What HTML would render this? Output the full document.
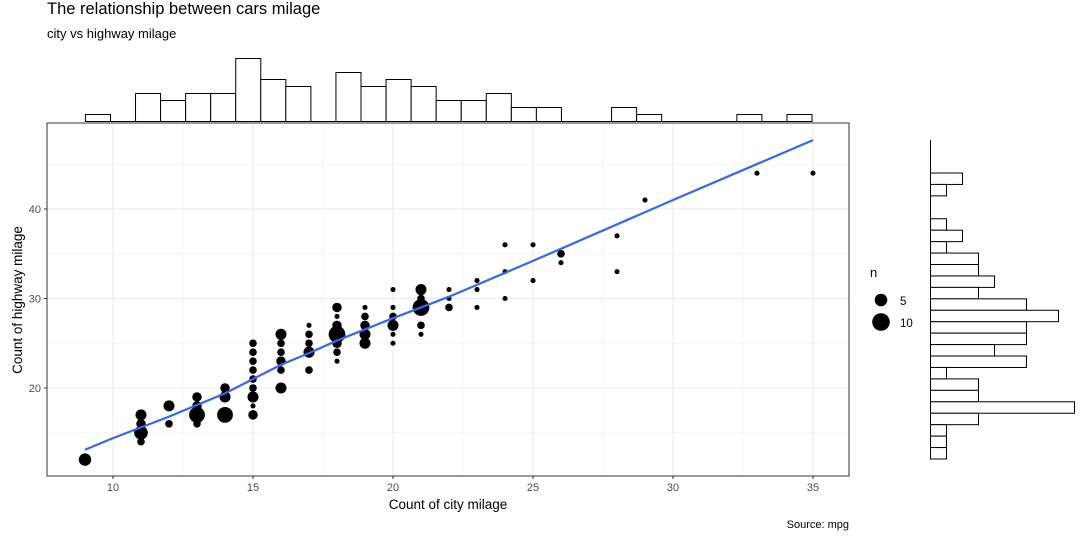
<!DOCTYPE html>
<html><head><meta charset="utf-8"><style>
body{margin:0;background:#fff;font-family:"Liberation Sans",Arial,sans-serif}
svg text{font-family:"Liberation Sans",Arial,sans-serif}
</style></head><body>
<svg id="c" width="1083" height="540" xmlns="http://www.w3.org/2000/svg">
<text x="47" y="14" font-size="16.5" fill="#000">The relationship between cars milage</text>
<text x="47" y="38" font-size="13" fill="#000">city vs highway milage</text>
<text x="849" y="528" font-size="11" text-anchor="end" fill="#000">Source: mpg</text>
<text x="448" y="509" font-size="13.5" text-anchor="middle">Count of city milage</text>
<text transform="translate(22,300) rotate(-90)" font-size="13.5" text-anchor="middle">Count of highway milage</text>
<g id="grid"></g><g id="pts"></g><g id="ax"></g><g id="th"></g><g id="rh"></g>
<g>
<text x="870" y="277" font-size="13">n</text>
<circle cx="881" cy="300" r="6.3" fill="#000"/>
<text x="900" y="305" font-size="11.5">5</text>
<circle cx="881" cy="322" r="8.8" fill="#000"/>
<text x="900" y="327" font-size="11.5">10</text>
</g>
</svg>
<script>
const ptCty=[9,11,11,11,11,12,12,13,13,13,13,14,14,14,15,15,15,15,15,15,15,15,15,16,16,16,16,16,16,17,17,17,17,17,18,18,18,18,18,18,18,19,19,19,19,19,20,20,20,20,20,20,21,21,21,21,21,22,22,22,23,23,23,24,24,24,25,25,26,26,28,28,29,33,35];
const ptHwy=[12,14,15,16,17,16,18,16,17,18,19,17,19,20,17,18,19,20,21,22,23,24,25,20,22,23,24,25,26,22,24,25,26,27,23,24,25,26,27,28,29,25,26,27,28,29,25,26,27,28,29,31,26,27,29,30,31,29,30,31,29,31,32,30,33,36,32,36,34,35,33,37,41,44,44];
const ptN=[5,2,6,3,4,2,4,2,8,3,3,8,4,3,3,1,4,2,2,2,2,2,2,4,2,3,2,2,4,2,4,2,2,1,1,2,3,9,3,1,3,4,4,3,2,1,1,1,4,2,1,1,1,2,9,2,4,2,1,1,1,1,1,1,1,1,1,1,1,2,1,1,1,1,1];
const fitX=[9,10,12,14,15,16,17,18,20,22,25,30,35];
const fitY=[13.1,14.4,16.8,19.4,21.0,22.6,23.9,25.3,27.8,30.2,34.2,41.0,47.7];
const xTicks=[10,15,20,25,30,35];
const yTicks=[20,30,40];
const topCounts=[1,0,4,3,4,4,9,6,5,0,7,5,6,5,3,3,4,2,2,0,0,2,1,0,0,0,1,0,1];
const rightCounts=[2,1,0,0,1,2,1,3,3,4,3,6,8,6,6,4,6,1,3,3,9,3,1,1,1];
const NS="http://www.w3.org/2000/svg";
const X=v=>113+(v-10)*28, Y=v=>388-(v-20)*8.95;
const R=n=>Math.sqrt(6.5+8*(n-1));
function mk(p,t,a){const e=document.createElementNS(NS,t);for(const k in a)e.setAttribute(k,a[k]);p.appendChild(e);return e;}
const g=document.getElementById('grid');
mk(g,'rect',{x:47,y:123,width:802,height:353,fill:'#fff'});
[7.5,12.5,17.5,22.5,27.5,32.5].forEach(v=>{const l=mk(g,'line',{x1:X(v),x2:X(v),y1:123,y2:476,stroke:'#f2f2f2','stroke-width':0.6});});
[15,25,35,45].forEach(v=>{const l=mk(g,'line',{x1:47,x2:849,y1:Y(v),y2:Y(v),stroke:'#f2f2f2','stroke-width':0.6});});
xTicks.forEach(v=>{const l=mk(g,'line',{x1:X(v),x2:X(v),y1:123,y2:476,stroke:'#ebebeb','stroke-width':1.1});});
yTicks.forEach(v=>{const l=mk(g,'line',{x1:47,x2:849,y1:Y(v),y2:Y(v),stroke:'#ebebeb','stroke-width':1.1});});
const p=document.getElementById('pts');
ptCty.forEach((c,i)=>{const e=mk(p,'circle',{cx:X(c),cy:Y(ptHwy[i]),r:R(ptN[i]),fill:'#000'});

});
const fl=mk(p,'polyline',{points:fitX.map((x,i)=>X(x)+','+Y(fitY[i])).join(' '),fill:'none',stroke:'#3366FF','stroke-width':2.2});


const a=document.getElementById('ax');
const b=mk(a,'rect',{x:47,y:123,width:802,height:353,fill:'none',stroke:'#333','stroke-width':1});


xTicks.forEach(v=>{mk(a,'line',{x1:X(v),x2:X(v),y1:476,y2:479,stroke:'#333'});
const t=mk(a,'text',{x:X(v),y:491,'font-size':11,'text-anchor':'middle',fill:'#4d4d4d'});t.textContent=v;

});
yTicks.forEach(v=>{mk(a,'line',{x1:44,x2:47,y1:Y(v),y2:Y(v),stroke:'#333'});
const t=mk(a,'text',{x:41,y:Y(v)+4,'font-size':11,'text-anchor':'end',fill:'#4d4d4d'});t.textContent=v;

});
const th=document.getElementById('th');
const tw=726.6/topCounts.length;
topCounts.forEach((n,i)=>{if(!n)return;const r=mk(th,'rect',{x:85.4+i*tw,y:121.5-n*7,width:tw,height:n*7,fill:'#fff',stroke:'#000','stroke-width':1});

});
mk(th,'line',{x1:85,x2:812,y1:121.5,y2:121.5,stroke:'#000'});
const rh=document.getElementById('rh');
const rhh=(459-173)/rightCounts.length;
rightCounts.forEach((n,i)=>{if(!n)return;const r=mk(rh,'rect',{x:930.5,y:173+i*rhh,width:n*16,height:rhh,fill:'#fff',stroke:'#000','stroke-width':1});

});
mk(rh,'line',{x1:930.5,x2:930.5,y1:140,y2:459,stroke:'#000'});
</script>
</body></html>
